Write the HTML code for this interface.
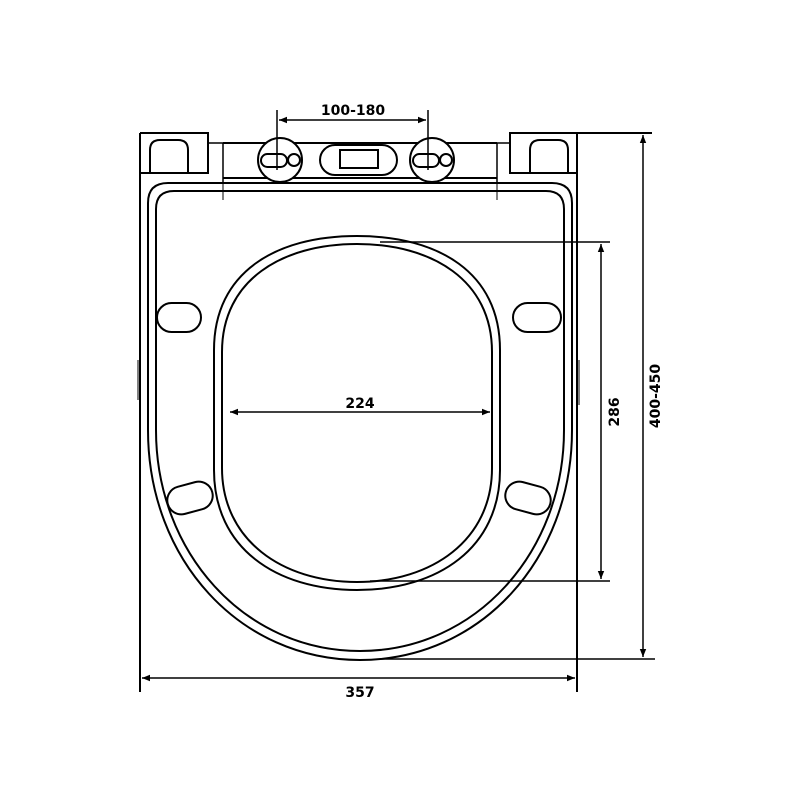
<!DOCTYPE html>
<html><head><meta charset="utf-8"><style>html,body{margin:0;padding:0;background:#fff}svg{display:block}</style></head><body>
<svg width="800" height="800" viewBox="0 0 800 800" xmlns="http://www.w3.org/2000/svg">
<defs><marker id="a" viewBox="0 0 10 10" refX="10" refY="5" markerWidth="12" markerHeight="8" markerUnits="userSpaceOnUse" orient="auto-start-reverse"><path d="M0,1 L10,5 L0,9 Z" fill="#000"/></marker></defs>
<g fill="none" stroke="#000" stroke-width="2">
<line x1="140" y1="133" x2="140" y2="692"/>
<line x1="577" y1="133" x2="577" y2="692"/>
<path d="M140,133 H208 V173 H140"/>
<path d="M150,172 V150 Q150,140 160,140 H178 Q188,140 188,150 V172"/>
<path d="M208,143 H223 V183" stroke-width="1.5"/>
<line x1="223" y1="178" x2="223" y2="200" stroke-width="1"/>
<path d="M652,133 H510 V173 H577"/>
<path d="M530,172 V150 Q530,140 540,140 H558 Q568,140 568,150 V172"/>
<path d="M510,143 H497 V183" stroke-width="1.5"/>
<line x1="497" y1="178" x2="497" y2="200" stroke-width="1"/>
<line x1="223" y1="143" x2="497" y2="143"/>
<line x1="223" y1="178" x2="497" y2="178"/>
<circle cx="280" cy="160" r="22" fill="#fff"/>
<circle cx="432" cy="160" r="22" fill="#fff"/>
<rect x="261" y="154" width="26" height="13" rx="6.5"/>
<circle cx="294" cy="160" r="6"/>
<rect x="413" y="154" width="26" height="13" rx="6.5"/>
<circle cx="446" cy="160" r="6"/>
<rect x="320" y="145" width="77" height="30" rx="15"/>
<rect x="340" y="150" width="38" height="18"/>
<path d="M168,183 H552 Q572,183 572,203 L572,430 C572,560 480,660 360,660 C240,660 148,560 148,430 L148,203 Q148,183 168,183 Z"/>
<path d="M174,191 H546 Q564,191 564,209 L564,430 C564,552 476,651 360,651 C244,651 156,552 156,430 L156,209 Q156,191 174,191 Z"/>
<line x1="138" y1="360" x2="138" y2="400" stroke-width="1"/>
<line x1="579" y1="360" x2="579" y2="405" stroke-width="1"/>
<path d="M214,350 C214,272 276,236 357,236 C438,236 500,272 500,350 V470 C500,548 438,590 357,590 C276,590 214,548 214,470 Z"/>
<path d="M222,352 C222,280 282,244 357,244 C432,244 492,280 492,352 V468 C492,540 432,582 357,582 C282,582 222,540 222,468 Z"/>
<rect x="157" y="303" width="44" height="29" rx="14.5"/>
<rect x="513" y="303" width="48" height="29" rx="14.5"/>
<rect x="167" y="484" width="46" height="28" rx="14" transform="rotate(-15 190 498)"/>
<rect x="505" y="484" width="46" height="28" rx="14" transform="rotate(15 528 498)"/>
</g>
<g stroke="#000" stroke-width="1.5" fill="none">
<line x1="277" y1="110" x2="277" y2="170"/>
<line x1="428" y1="110" x2="428" y2="170"/>
<line x1="279" y1="120" x2="426" y2="120" marker-start="url(#a)" marker-end="url(#a)"/>
<line x1="230" y1="412" x2="490" y2="412" marker-start="url(#a)" marker-end="url(#a)"/>
<line x1="380" y1="242" x2="610" y2="242"/>
<line x1="370" y1="581" x2="610" y2="581"/>
<line x1="601" y1="244" x2="601" y2="579" marker-start="url(#a)" marker-end="url(#a)"/>
<line x1="577" y1="133" x2="650" y2="133"/>
<line x1="380" y1="659" x2="655" y2="659"/>
<line x1="643" y1="135" x2="643" y2="657" marker-start="url(#a)" marker-end="url(#a)"/>
<line x1="142" y1="678" x2="575" y2="678" marker-start="url(#a)" marker-end="url(#a)"/>
</g>
<g font-family="'DejaVu Sans', 'Liberation Sans', sans-serif" font-weight="bold" font-size="14" fill="#000" text-anchor="middle">
<text x="353" y="115">100-180</text>
<text x="360" y="408">224</text>
<text x="360" y="697">357</text>
<text transform="translate(619 412) rotate(-90)">286</text>
<text transform="translate(660 396) rotate(-90)">400-450</text>
</g>
</svg>
</body></html>
